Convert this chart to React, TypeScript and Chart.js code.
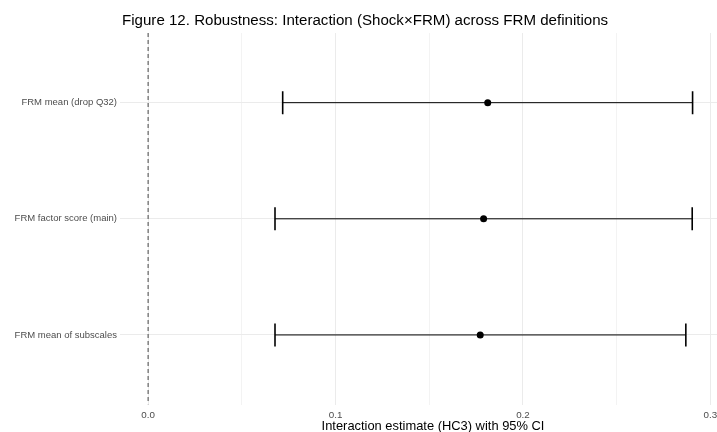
import React, { useEffect, useRef } from "react";
import { Chart, registerables } from "chart.js";

Chart.register(...registerables);

const categories = ["FRM mean (drop Q32)", "FRM factor score (main)", "FRM mean of subscales"];
const estimates = [0.1812, 0.179, 0.1772];
const ciLow = [0.0718, 0.0677, 0.0677];
const ciHigh = [0.2905, 0.2903, 0.2869];
const xTickValues = [0, 0.05, 0.1, 0.15, 0.2, 0.25, 0.3];
const xTickLabels: Record<string, string> = { "0": "0.0", "0.1": "0.1", "0.2": "0.2", "0.3": "0.3" };
const titleText = "Figure 12. Robustness: Interaction (Shock×FRM) across FRM definitions";
const xAxisTitle = "Interaction estimate (HC3) with 95% CI";

const FONT = "'Liberation Sans', Arial, Helvetica, sans-serif";

export default function App() {
  const ref = useRef<HTMLCanvasElement | null>(null);
  useEffect(() => {
    document.body.style.margin = "0";
    document.body.style.overflow = "hidden";
    const canvas = ref.current!;
    const rowDatasets = categories.map((c, i) => ({
      type: "line" as const,
      label: c,
      data: [
        { x: ciLow[i], y: i + 1 },
        { x: ciHigh[i], y: i + 1 },
      ],
      borderColor: "#000",
      borderWidth: 1,
      pointStyle: "line" as const,
      pointRotation: 90,
      pointRadius: 11.5,
      pointBorderWidth: 1.6,
      pointBorderColor: "#000",
      fill: false,
    }));
    const titlePlugin = {
      id: "leftTitle",
      afterDraw(chart: any) {
        const ctx = chart.ctx;
        ctx.save();
        ctx.fillStyle = "#000";
        ctx.font = `15.1px ${FONT}`;
        ctx.textAlign = "left";
        ctx.textBaseline = "alphabetic";
        ctx.fillText(titleText, chart.chartArea.left + 2, 25);
        ctx.restore();
      },
    };
    const chart = new Chart(canvas, {
      type: "scatter",
      data: {
        datasets: [
          {
            type: "line",
            label: "zero",
            data: [
              { x: 0, y: 0.4 },
              { x: 0, y: 3.6 },
            ],
            borderColor: "#555",
            borderWidth: 1.1,
            borderDash: [4, 3],
            pointRadius: 0,
            fill: false,
          } as any,
          ...rowDatasets,
          {
            type: "scatter",
            label: "estimate",
            data: estimates.map((e, i) => ({ x: e, y: i + 1 })),
            backgroundColor: "#000",
            borderColor: "#000",
            pointRadius: 3.5,
            pointBorderWidth: 0,
          } as any,
        ],
      },
      options: {
        responsive: false,
        animation: false,
        events: [],
        layout: { autoPadding: false, padding: { top: 33, right: 4, left: 0, bottom: 0 } },
        plugins: { legend: { display: false }, tooltip: { enabled: false }, title: { display: false } },
        scales: {
          x: {
            type: "linear",
            min: -0.015,
            max: 0.319,
            border: { display: false },
            afterBuildTicks: (scale: any) => {
              scale.ticks = xTickValues.map((v) => ({ value: v }));
            },
            afterFit: (scale: any) => {
              scale.height = 27.4;
              scale.paddingLeft = 0;
              scale.paddingRight = 0;
            },
            grid: {
              color: "#ebebeb",
              lineWidth: (ctx: any) => {
                const v = Math.round(ctx.tick?.value * 100);
                return v % 10 === 0 ? 1 : 0.6;
              },
              drawTicks: false,
            },
            ticks: {
              padding: 5,
              color: "#4d4d4d",
              font: { family: FONT, size: 9.8 },
              maxRotation: 0,
              callback: (v: any) => {
                const key = String(Math.round(Number(v) * 100) / 100);
                return xTickLabels[key] ?? "";
              },
            },
            title: {
              display: true,
              text: xAxisTitle,
              color: "#000",
              font: { family: FONT, size: 12.9 },
              padding: { top: 0, bottom: -2.5 },
            },
          },
          y: {
            type: "linear",
            min: 0.4,
            max: 3.6,
            reverse: true,
            border: { display: false },
            afterBuildTicks: (scale: any) => {
              scale.ticks = categories.map((_, i) => ({ value: i + 1 }));
            },
            afterFit: (scale: any) => {
              scale.width = 120;
              scale.paddingTop = 0;
              scale.paddingBottom = 0;
            },
            grid: { color: "#ebebeb", lineWidth: 1, drawTicks: false },
            ticks: {
              padding: 3,
              color: "#4d4d4d",
              font: { family: FONT, size: 9.5 },
              callback: (v: any) => categories[Math.round(Number(v)) - 1] ?? "",
            },
          },
        },
      },
      plugins: [titlePlugin],
    } as any);
    return () => chart.destroy();
  }, []);
  return <canvas ref={ref} width={750} height={432} style={{ display: "block" }} />;
}
